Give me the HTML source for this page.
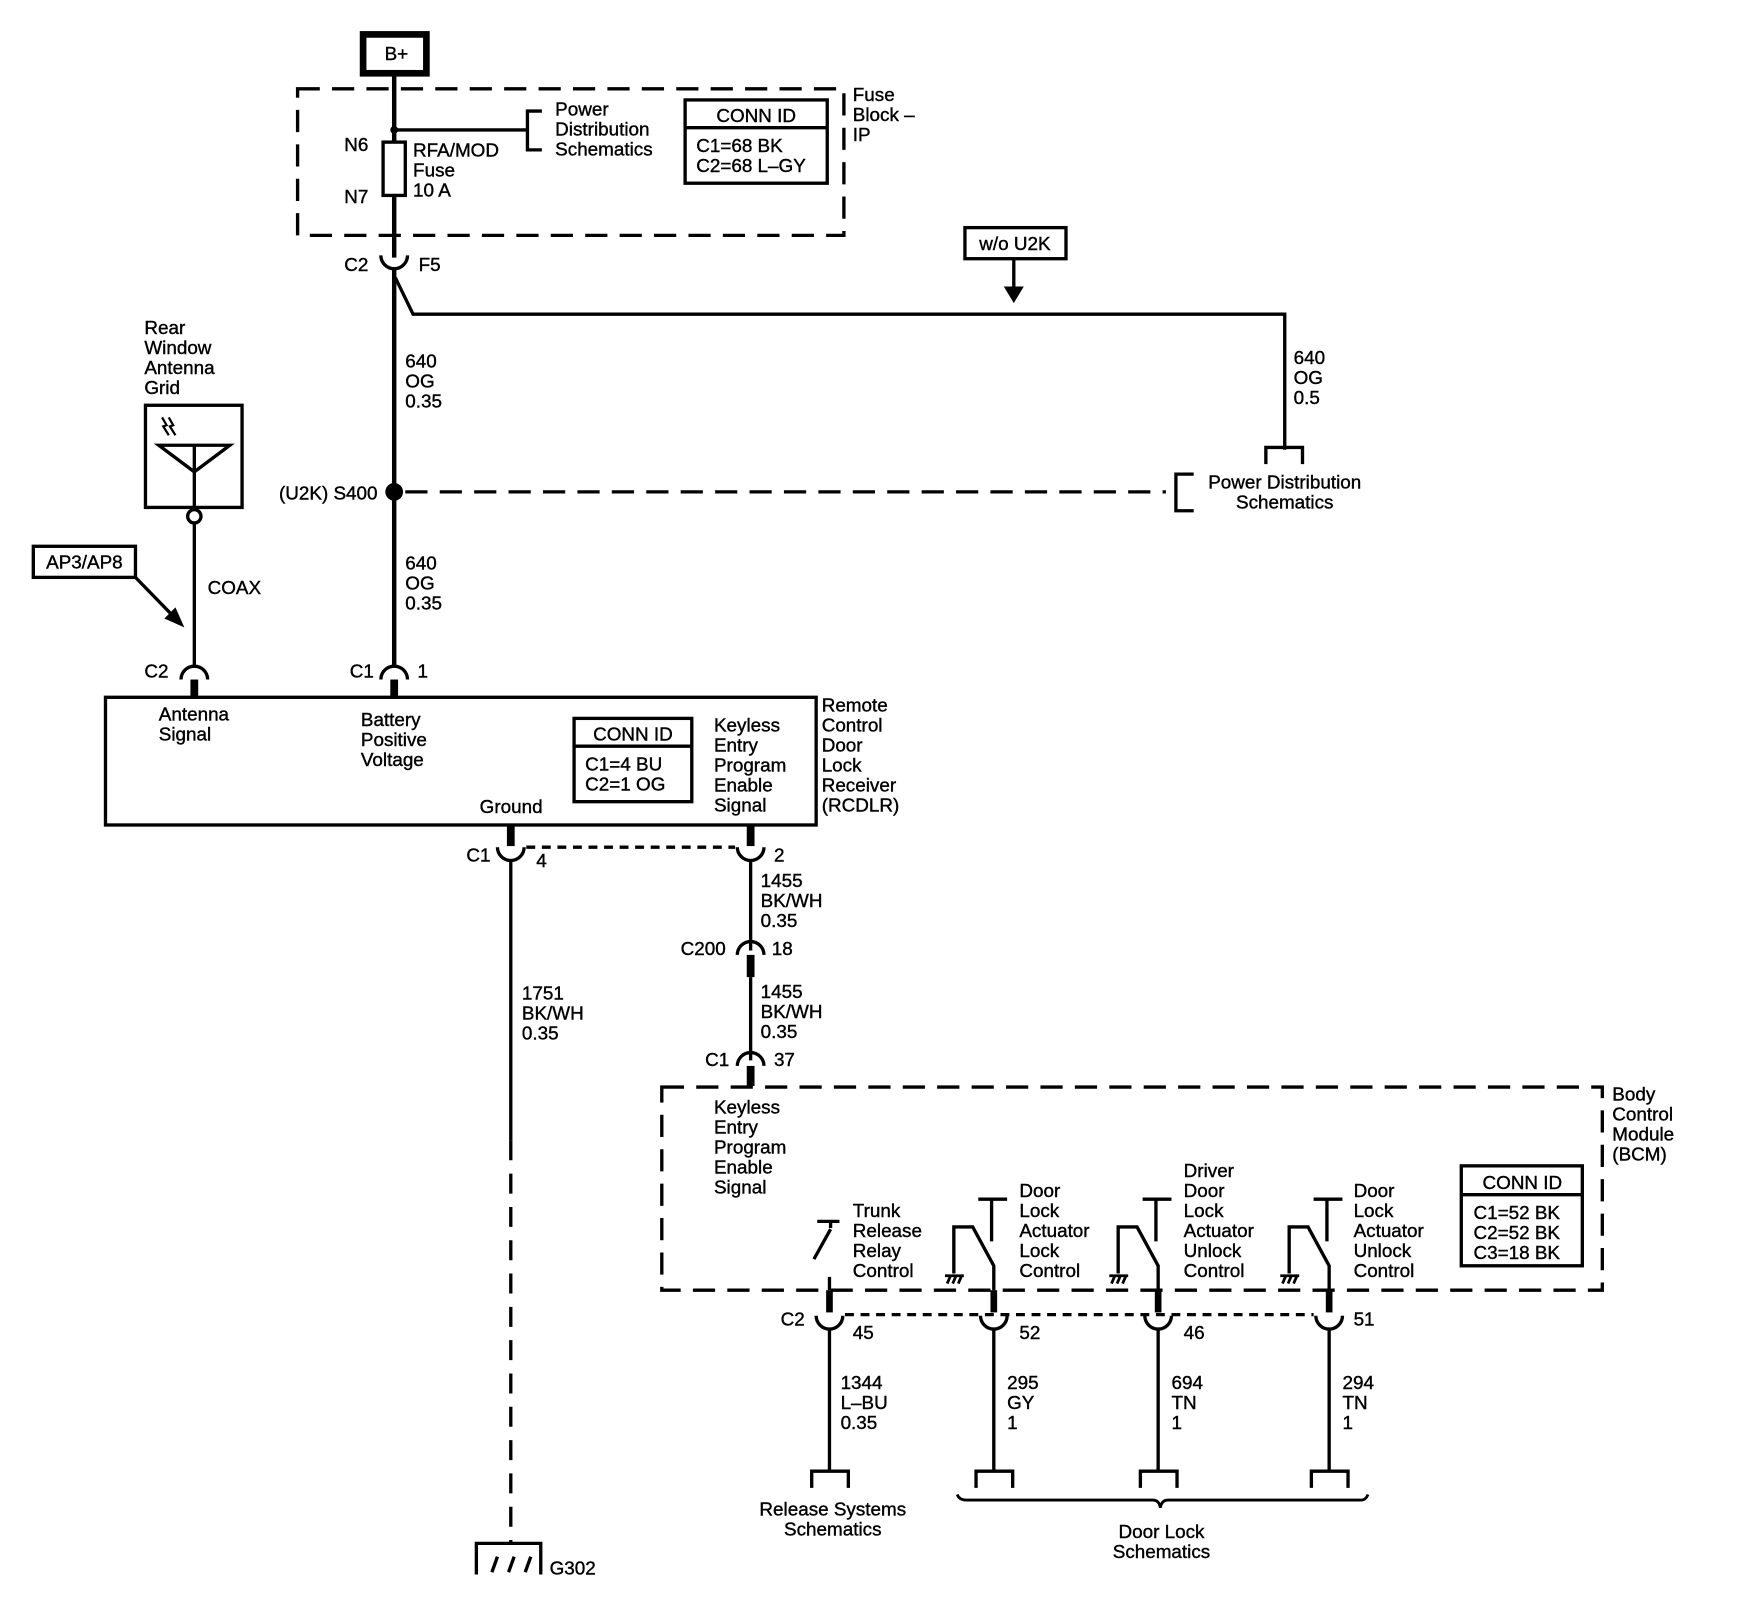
<!DOCTYPE html>
<html><head><meta charset="utf-8"><style>
html,body{margin:0;padding:0;background:#fff;}
svg{display:block;}
text{font-family:"Liberation Sans",Arial,sans-serif;font-size:17px;fill:#000;stroke:#000;stroke-width:0.35px;}
</style></head><body>
<svg width="1740" height="1600" viewBox="0 0 1567 1441" preserveAspectRatio="none" xmlns="http://www.w3.org/2000/svg">
<g fill="none" stroke="#000" stroke-width="3">
<rect x="327" y="31" width="57" height="35" stroke-width="6"/>
<rect x="268" y="80" width="492" height="132" stroke-dasharray="20,11"/>
<line x1="355" y1="66" x2="355" y2="128" stroke-width="4"/>
<line x1="355" y1="117" x2="475" y2="117"/>
<path d="M488 100 H475 V135 H488"/>
<rect x="345" y="128" width="20" height="48"/>
<line x1="355" y1="176" x2="355" y2="232" stroke-width="4"/>
<rect x="617" y="90" width="128" height="75"/>
<line x1="617" y1="115" x2="745" y2="115"/>
<path d="M343 230 A12 12 0 0 0 367 230"/>
<line x1="355" y1="242" x2="355" y2="600" stroke-width="4"/>
<path d="M356 250 L372 283 H1157 V405"/>
<path d="M1140 418 V403 H1173 V418"/>
<rect x="869" y="205" width="91" height="28"/>
<line x1="913" y1="233" x2="913" y2="262"/>
<line x1="365" y1="443" x2="1050" y2="443" stroke-dasharray="20,11"/>
<path d="M1075 427 H1059 V460 H1075"/>
<path d="M343 612 A12 12 0 0 1 367 612"/>
<line x1="355" y1="612" x2="355" y2="628" stroke-width="7"/>
<rect x="131" y="365" width="87" height="92"/>
<path d="M143 401 H207 L175 425 Z"/>
<line x1="175" y1="401" x2="175" y2="458"/>
<circle cx="175" cy="465" r="6"/>
<line x1="175" y1="471" x2="175" y2="600"/>
<path d="M146 376 L150 383 L147 384 L152 392 M152 376 L156 383 L153 384 L158 392" stroke-width="2"/>
<rect x="30" y="492" width="92" height="28"/>
<line x1="122" y1="520" x2="158" y2="557"/>
<path d="M163 612 A12 12 0 0 1 187 612"/>
<line x1="175" y1="612" x2="175" y2="628" stroke-width="7"/>
<rect x="95" y="628" width="640" height="115"/>
<rect x="517" y="647" width="106" height="75"/>
<line x1="517" y1="672" x2="623" y2="672"/>
<line x1="460" y1="743" x2="460" y2="762" stroke-width="7"/>
<line x1="676" y1="743" x2="676" y2="762" stroke-width="7"/>
<path d="M448 763 A12 12 0 0 0 472 763"/>
<path d="M664 763 A12 12 0 0 0 688 763"/>
<line x1="474" y1="763" x2="662" y2="763" stroke-dasharray="8,6"/>
<line x1="460" y1="775" x2="460" y2="1027"/>
<line x1="460" y1="1027" x2="460" y2="1390" stroke-dasharray="18,12"/>
<path d="M429 1418 V1390 H487 V1418"/>
<path d="M443 1416 L448 1402 M458 1416 L463 1402 M473 1416 L478 1402" stroke-width="3"/>
<line x1="676" y1="775" x2="676" y2="856"/>
<path d="M664 860 A12 12 0 0 1 688 860"/>
<line x1="676" y1="860" x2="676" y2="880" stroke-width="7"/>
<line x1="676" y1="880" x2="676" y2="955"/>
<path d="M664 960 A12 12 0 0 1 688 960"/>
<line x1="676" y1="960" x2="676" y2="978" stroke-width="7"/>
<rect x="596" y="979" width="847" height="183" stroke-dasharray="20,11"/>
<rect x="1316" y="1050" width="109" height="90"/>
<line x1="1316" y1="1076" x2="1425" y2="1076"/>
<line x1="736" y1="1100" x2="756" y2="1100"/>
<line x1="748" y1="1100" x2="748" y2="1106"/>
<line x1="748" y1="1107" x2="733" y2="1134"/>
<line x1="747" y1="1150" x2="747" y2="1162"/>
<line x1="747" y1="1162" x2="747" y2="1182" stroke-width="6"/>
</g>
<g fill="none" stroke="#000" stroke-width="3" id="sw">
<line x1="881" y1="1080" x2="907" y2="1080"/>
<line x1="893" y1="1080" x2="893" y2="1118"/>
<path d="M859 1147 V1105 H876 L895 1140 V1162"/>
<line x1="895" y1="1162" x2="895" y2="1182" stroke-width="6"/>
<path d="M851 1149 H868 M853 1156 L856 1149 M858 1156 L861 1149 M863 1156 L866 1149" stroke-width="2.5"/>
</g>
<use href="#sw" transform="translate(148,0)"/>
<use href="#sw" transform="translate(302,0)"/>
<g fill="none" stroke="#000" stroke-width="3">
<path d="M735 1185 A12 12 0 0 0 759 1185"/>
<path d="M883 1185 A12 12 0 0 0 907 1185"/>
<path d="M1031 1185 A12 12 0 0 0 1055 1185"/>
<path d="M1185 1185 A12 12 0 0 0 1209 1185"/>
<line x1="761" y1="1184" x2="1183" y2="1184" stroke-dasharray="8,6"/>
<line x1="747" y1="1197" x2="747" y2="1325"/>
<line x1="895" y1="1197" x2="895" y2="1325"/>
<line x1="1043" y1="1197" x2="1043" y2="1325"/>
<line x1="1197" y1="1197" x2="1197" y2="1325"/>
<path d="M731 1340 V1325 H764 V1340"/>
<path d="M879 1340 V1325 H912 V1340"/>
<path d="M1027 1340 V1325 H1060 V1340"/>
<path d="M1181 1340 V1325 H1214 V1340"/>
<path d="M862 1346 Q864 1351 870 1351 H1038 Q1044 1351 1045 1358 Q1046 1351 1052 1351 H1226 Q1230 1351 1232 1346" stroke-width="2.5"/>
</g>
<circle cx="355" cy="443" r="8"/>
<circle cx="355" cy="117" r="3.5"/>
<polygon points="913,273 904,258 922,258"/>
<polygon points="166,565 148,557 158,547"/>
<g>
<text x="357" y="54" text-anchor="middle">B+</text>
<text x="500" y="104">Power</text><text x="500" y="122">Distribution</text><text x="500" y="140">Schematics</text>
<text x="310" y="136">N6</text><text x="310" y="183">N7</text>
<text x="372" y="141">RFA/MOD</text><text x="372" y="159">Fuse</text><text x="372" y="177">10 A</text>
<text x="681" y="110" text-anchor="middle">CONN ID</text>
<text x="627" y="137">C1=68 BK</text><text x="627" y="155">C2=68 L–GY</text>
<text x="768" y="91">Fuse</text><text x="768" y="109">Block –</text><text x="768" y="127">IP</text>
<text x="310" y="244">C2</text><text x="377" y="244">F5</text>
<text x="914" y="225" text-anchor="middle">w/o U2K</text>
<text x="365" y="331">640</text><text x="365" y="349">OG</text><text x="365" y="367">0.35</text>
<text x="1165" y="328">640</text><text x="1165" y="346">OG</text><text x="1165" y="364">0.5</text>
<text x="340" y="450" text-anchor="end">(U2K) S400</text>
<text x="1157" y="440" text-anchor="middle">Power Distribution</text><text x="1157" y="458" text-anchor="middle">Schematics</text>
<text x="365" y="513">640</text><text x="365" y="531">OG</text><text x="365" y="549">0.35</text>
<text x="130" y="301">Rear</text><text x="130" y="319">Window</text><text x="130" y="337">Antenna</text><text x="130" y="355">Grid</text>
<text x="76" y="512" text-anchor="middle">AP3/AP8</text>
<text x="187" y="535">COAX</text>
<text x="130" y="610">C2</text><text x="315" y="610">C1</text><text x="376" y="610">1</text>
<text x="143" y="649">Antenna</text><text x="143" y="667">Signal</text>
<text x="325" y="654">Battery</text><text x="325" y="672">Positive</text><text x="325" y="690">Voltage</text>
<text x="432" y="732">Ground</text>
<text x="570" y="667" text-anchor="middle">CONN ID</text>
<text x="527" y="694">C1=4 BU</text><text x="527" y="712">C2=1 OG</text>
<text x="643" y="659">Keyless</text><text x="643" y="677">Entry</text><text x="643" y="695">Program</text><text x="643" y="713">Enable</text><text x="643" y="731">Signal</text>
<text x="740" y="641">Remote</text><text x="740" y="659">Control</text><text x="740" y="677">Door</text><text x="740" y="695">Lock</text><text x="740" y="713">Receiver</text><text x="740" y="731">(RCDLR)</text>
<text x="420" y="776">C1</text><text x="483" y="781">4</text><text x="697" y="776">2</text>
<text x="685" y="799">1455</text><text x="685" y="817">BK/WH</text><text x="685" y="835">0.35</text>
<text x="613" y="860">C200</text><text x="695" y="860">18</text>
<text x="685" y="899">1455</text><text x="685" y="917">BK/WH</text><text x="685" y="935">0.35</text>
<text x="470" y="900">1751</text><text x="470" y="918">BK/WH</text><text x="470" y="936">0.35</text>
<text x="635" y="960">C1</text><text x="697" y="960">37</text>
<text x="1452" y="991">Body</text><text x="1452" y="1009">Control</text><text x="1452" y="1027">Module</text><text x="1452" y="1045">(BCM)</text>
<text x="643" y="1003">Keyless</text><text x="643" y="1021">Entry</text><text x="643" y="1039">Program</text><text x="643" y="1057">Enable</text><text x="643" y="1075">Signal</text>
<text x="1371" y="1071" text-anchor="middle">CONN ID</text>
<text x="1327" y="1098">C1=52 BK</text><text x="1327" y="1116">C2=52 BK</text><text x="1327" y="1134">C3=18 BK</text>
<text x="768" y="1096">Trunk</text><text x="768" y="1114">Release</text><text x="768" y="1132">Relay</text><text x="768" y="1150">Control</text>
<text x="918" y="1078">Door</text><text x="918" y="1096">Lock</text><text x="918" y="1114">Actuator</text><text x="918" y="1132">Lock</text><text x="918" y="1150">Control</text>
<text x="1066" y="1060">Driver</text><text x="1066" y="1078">Door</text><text x="1066" y="1096">Lock</text><text x="1066" y="1114">Actuator</text><text x="1066" y="1132">Unlock</text><text x="1066" y="1150">Control</text>
<text x="1219" y="1078">Door</text><text x="1219" y="1096">Lock</text><text x="1219" y="1114">Actuator</text><text x="1219" y="1132">Unlock</text><text x="1219" y="1150">Control</text>
<text x="703" y="1194">C2</text><text x="768" y="1206">45</text><text x="918" y="1206">52</text><text x="1066" y="1206">46</text><text x="1219" y="1194">51</text>
<text x="757" y="1251">1344</text><text x="757" y="1269">L–BU</text><text x="757" y="1287">0.35</text>
<text x="907" y="1251">295</text><text x="907" y="1269">GY</text><text x="907" y="1287">1</text>
<text x="1055" y="1251">694</text><text x="1055" y="1269">TN</text><text x="1055" y="1287">1</text>
<text x="1209" y="1251">294</text><text x="1209" y="1269">TN</text><text x="1209" y="1287">1</text>
<text x="750" y="1365" text-anchor="middle">Release Systems</text><text x="750" y="1383" text-anchor="middle">Schematics</text>
<text x="1046" y="1385" text-anchor="middle">Door Lock</text><text x="1046" y="1403" text-anchor="middle">Schematics</text>
<text x="495" y="1418">G302</text>
</g>
</svg>
</body></html>
